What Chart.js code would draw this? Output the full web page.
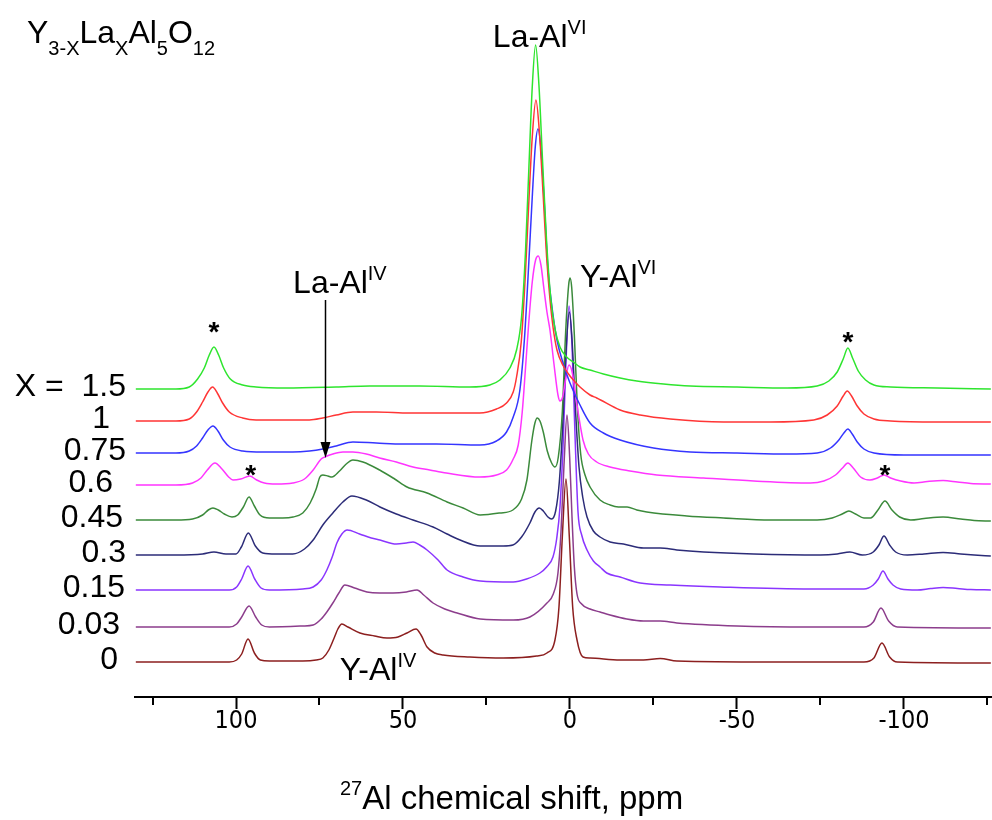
<!DOCTYPE html>
<html>
<head>
<meta charset="utf-8">
<script src="https://cdn.jsdelivr.net/npm/chart.js@4.4.0/dist/chart.umd.min.js"></script>
<style>
  html, body { margin: 0; padding: 0; background: #fff; }
</style>
</head>
<body>
<canvas id="nmr" width="992" height="820"></canvas>
<script>
// 27Al MAS NMR spectra of Y(3-x)La(x)Al5O12, stacked
// each point: [ppm, intensity (arb. units, offset included)]
const spec15 = [[130,308],[118,308],[114,310],[111.5,318],[109.5,329],[108,342],[106.6,350],[105.2,342],[103.7,329],[101.7,318],[98,312],[94,310],[85,309],[70,310],[60,311],[45,311],[30,310],[24,312],[21,317],[18,329],[16,347],[14.5,380],[13.3,447],[12.3,530],[11.3,610],[10.3,652],[9.3,612],[8.2,535],[7,455],[5.8,400],[4.5,368],[3,350],[1,340],[-1,335],[-3,330],[-6,327],[-10,323],[-15,319],[-20,316],[-28,313],[-36,311],[-50,310],[-65,309],[-74,311],[-77.5,316],[-80,325],[-81.8,338],[-83.2,349],[-84.6,339],[-86.3,326],[-88.5,317],[-91,312],[-96,310],[-110,309],[-126,308]];
const spec1 = [[130,276],[118,276],[114,278],[111.8,285],[110,295],[108.4,305],[107,310],[105.6,304],[104,294],[102,285],[98,279],[94,277],[85,277],[78,277],[74,279],[70,282],[65,285],[58,285],[48,284],[38,284],[27,284],[22,288],[19,294],[17,305],[16,320],[14.6,355],[13.4,420],[12.4,490],[11.3,560],[10.2,597],[9.1,562],[8,500],[7,440],[6,398],[5,368],[3.9,347],[2,331],[0,321],[-1,317],[-3,310],[-6,302],[-8,299],[-15,287],[-21,282],[-30,278],[-46,275],[-60,275],[-73,277],[-77,282],[-80,291],[-81.8,301],[-83,306],[-84.3,301],[-86,291],[-88,283],[-91,278],[-96,276],[-110,275],[-126,275]];
const spec075 = [[130,244],[118,244],[114,246],[111.8,251],[110,259],[108.4,267],[106.9,271],[105.4,266],[103.8,257],[101.8,250],[98,246],[92,245],[83,245],[78,246],[74,248],[70,251],[65,255],[58,254],[50,253],[40,253],[27,252],[22,256],[19,265],[17,280],[15,307],[13.6,360],[12.4,430],[11.3,500],[10.4,550],[9.6,568],[8.8,552],[7.8,500],[6.6,428],[5.2,385],[3.9,357],[2,333],[0,314],[-3,292],[-6,274],[-10,264],[-15,257],[-25,249],[-36,245],[-50,244],[-65,243],[-74,244],[-78,249],[-80.5,257],[-82,264],[-83.2,268],[-84.5,263],[-86,255],[-88,248],[-91,244],[-100,242],[-126,242]];
const spec06 = [[130,212],[118,212],[113,214],[110.5,219],[108.6,227],[106.3,234],[104.2,228],[102.2,220],[100.9,217],[98.6,218],[95.9,221],[93.8,217],[91.5,214],[88,213],[83,214],[79.5,218],[76.9,227],[74.5,238],[73.4,240],[71,243],[68,245],[65,245],[61,243],[57,239],[52,235],[47,230],[42,227],[37,224],[27,220],[22,222],[19,227],[17,238],[15.5,252],[14.3,285],[13.3,330],[12.4,372],[11.3,415],[10.3,437],[9.5,441],[8.7,432],[7.8,408],[6.9,385],[6,367],[4.8,333],[3.6,302],[3,296],[2.2,300],[1.3,318],[0.3,332],[-0.7,324],[-2,294],[-3.9,257],[-5.5,243],[-8,235],[-12,230],[-18,226],[-26,222],[-40,219],[-55,216],[-72,214],[-76,216],[-79.5,222],[-81.6,229],[-83.2,234],[-84.8,229],[-87,220],[-89.8,217],[-92,219],[-94,222],[-96,219],[-99,216],[-103,214],[-107,215.5],[-111.7,216.5],[-116,215],[-120,213.5],[-126,213]];
const spec045 = [[130,177],[118,177],[113,178],[110,182],[108.3,187],[106.9,189],[105.3,187],[103.5,183],[101.2,180],[99.5,182],[97.8,190],[96.1,200],[94.5,191],[92.8,182],[90,179],[86,179],[82.9,180],[80,184],[77.8,194],[76,208],[74.9,220],[74,222],[72.5,221],[71.3,220],[69,226],[67,233],[65,237],[62,235],[57,227],[52.5,218],[48.8,210],[42.8,204],[36.8,195],[32,189],[26.9,182],[21,184],[17.1,187],[14.5,198],[12.9,217],[11.4,257],[10.5,274],[9.8,279],[9,276],[8,265],[6.8,246],[5.5,234],[4.5,230],[3.5,240],[2.3,285],[1.3,365],[0.4,412],[0,419],[-0.5,410],[-1.3,362],[-2.2,290],[-3.2,243],[-4.5,222],[-6,210],[-9,197],[-12,192],[-14.5,190],[-17.1,190],[-20,187],[-23,185],[-35,181],[-46,179],[-60,177],[-74,177],[-78.5,179],[-81.5,183],[-83.5,186],[-85.5,183],[-88,179],[-90,179],[-92.2,187],[-94.3,196],[-96.4,187],[-98.7,180],[-102,177],[-106,178.5],[-111.7,180],[-117,178],[-121,176.5],[-126,176]];
const spec03 = [[130,142],[118,142],[110,143],[106.6,145],[103,143],[100,143],[98.4,150],[96.3,164],[94.2,151],[92,144],[88,143],[83,143],[79.5,148],[76.9,157],[74,172],[71,184],[68,195],[65.3,201],[61,197],[56.9,190],[52,183],[47,177],[41,170],[36.8,163],[32.9,157],[26.9,151],[20,151],[17.1,152],[14.5,160],[12,174],[10.5,185],[9.2,189],[8,186],[6.6,180],[5.5,178],[4.3,186],[3.2,215],[2.2,270],[1.2,345],[0.2,385],[-0.6,358],[-1.6,290],[-2.7,230],[-3.8,200],[-5.1,180],[-7,166],[-9,160],[-12,155],[-16,153],[-22,149],[-27,149],[-32,147],[-40,145],[-55,143],[-75,142],[-80,143],[-83.8,145],[-87.5,142],[-90.8,145],[-92.5,152],[-94,161],[-95.7,152],[-97.5,145],[-101,142],[-106,143],[-111.7,144.5],[-117,143],[-121,142],[-126,141]];
const spec015 = [[130,107],[102,107],[99.8,110],[98.3,118],[96.4,131],[94.4,118],[92.5,109],[90,107],[80,108],[76.9,110],[74.5,117],[72.8,127],[71.2,140],[69.8,154],[68.3,163],[66.7,167],[63,163],[59.5,159],[56.9,157],[52,153],[49,154],[47,155],[45,152],[42.8,147],[39.5,137],[36.8,127],[32,120],[26.9,116],[17,115],[13,118],[9,124],[7,130],[5.1,140],[4,158],[3,190],[2,258],[1.2,335],[0.3,391],[-0.6,352],[-1.5,262],[-2.4,185],[-3.5,162],[-5.1,147],[-7,136],[-9,130],[-11,124],[-15,120],[-21,114],[-30,112],[-45,110],[-72,108],[-88,108],[-90.8,112],[-92.3,118],[-93.7,126],[-95.2,118],[-96.7,112],[-99,108],[-104,107],[-108,108.5],[-111.7,109.5],[-116,108.5],[-120,107.5],[-126,107]];
const spec003 = [[130,70],[102,70],[99.8,73],[98.3,80],[96.1,91],[94.1,80],[92.3,72],[90,70],[80,71],[76.9,72],[74.5,78],[72.8,85],[71,94],[69.2,104],[67.4,112],[64.5,109],[60.8,105],[57,104],[53,104],[49,105],[45.8,107],[43.8,102],[41,94],[37.5,88],[33.8,84],[26.9,78],[17,77],[12,80],[6.9,94],[5,103],[3.6,124],[2.7,165],[1.8,232],[0.9,282],[0.1,240],[-0.6,180],[-1.3,130],[-2.1,103],[-3.5,93],[-6,88],[-9,85],[-12,82],[-17,78],[-22,76],[-27,76],[-32,74],[-50,71],[-72,70],[-88,70],[-90.8,75],[-93.1,89],[-95.4,76],[-98,70],[-126,69]];
const spec0 = [[130,35],[102,35],[99.8,37],[98.3,43],[96.4,58],[94.5,44],[92.7,37],[90,36],[80,36],[76,37],[74,39],[72.2,47],[70.5,60],[69.5,68],[68.3,73],[66.5,70],[62.9,64],[58.5,61],[54.8,59],[51.5,60],[48.8,64],[46.1,68],[44.6,62],[42.8,50],[40.5,44],[38,42],[30,40],[20,39],[10,41],[6.9,44],[4.5,57],[3.3,90],[2.3,160],[1.2,218],[0.2,160],[-0.8,90],[-2.1,57],[-3.9,40],[-6,39],[-15,37],[-22,37],[-27,38.5],[-32,36],[-60,35],[-88,35],[-91,39],[-93.4,54],[-95.7,40],[-98,35],[-126,34]];

const spectra = [spec15, spec1, spec075, spec06, spec045, spec03, spec015, spec003, spec0];
const xValues = ['X =  1.5', '1', '0.75', '0.6', '0.45', '0.3', '0.15', '0.03', '0'];
const lineColors = ['#2ee52e', '#ff3535', '#3535ff', '#ff35ff', '#3b8a3b', '#2c2c78', '#8a35ff', '#8c3d8c', '#8c1f1f'];
const labelRight = [126, 110, 126, 113, 123, 126, 125, 120, 118];

const tickValues = [125, 100, 75, 50, 25, 0, -25, -50, -75, -100, -125];

// spinning sidebands (*) and peak assignments, in [ppm, intensity]
const starMarks = [[106.6, 372], [95.6, 229], [-83.2, 362], [-94.3, 229]];
const peakNotes = [
  { at: [23.1, 650], parts: [{ t: 'La-Al' }, { t: 'VI', k: 'sup' }] },
  { at: [-3.0, 410], parts: [{ t: 'Y-Al' }, { t: 'VI', k: 'sup' }] },
  { at: [82.9, 404], parts: [{ t: 'La-Al' }, { t: 'IV', k: 'sup' }] },
  { at: [68.9, 17], parts: [{ t: 'Y-Al' }, { t: 'IV', k: 'sup' }] }
];
const arrowLaIV = { ppm: 73.4, from: 397, to: 239 };

const FONT = "'Liberation Sans', Arial, Helvetica, sans-serif";
const FONT_NARROW = "'Liberation Sans Narrow', 'Arial Narrow', 'DejaVu Sans Condensed', sans-serif";

function richText(ctx, parts, x, y, size, small, supDy, subDy) {
  parts.forEach(function (p) {
    ctx.font = (p.k ? small : size) + 'px ' + FONT;
    var dy = p.k === 'sup' ? supDy : (p.k === 'sub' ? subDy : 0);
    ctx.fillText(p.t, x, y + dy);
    x += ctx.measureText(p.t).width;
  });
}

const decorations = {
  id: 'decorations',
  afterDraw: function (chart) {
    const ctx = chart.ctx;
    const xs = chart.scales.x, ys = chart.scales.y;
    const area = chart.chartArea;
    ctx.save();
    ctx.fillStyle = '#000';
    ctx.strokeStyle = '#000';

    // minor ticks
    ctx.lineWidth = 2;
    tickValues.forEach(function (v) {
      if (v % 50 === 0) return;
      const px = Math.round(xs.getPixelForValue(v));
      ctx.beginPath();
      ctx.moveTo(px, area.bottom);
      ctx.lineTo(px, area.bottom + 8);
      ctx.stroke();
    });

    // X = ... labels next to each trace
    ctx.textAlign = 'right';
    ctx.textBaseline = 'alphabetic';
    ctx.font = '32px ' + FONT;
    spectra.forEach(function (s, i) {
      const py = ys.getPixelForValue(s[0][1]);
      ctx.fillText(xValues[i], labelRight[i], py + 7);
    });

    // stars
    ctx.textAlign = 'center';
    ctx.font = 'bold 28px ' + FONT;
    starMarks.forEach(function (m) {
      ctx.fillText('*', xs.getPixelForValue(m[0]), ys.getPixelForValue(m[1]) + 16);
    });

    // peak assignments
    ctx.textAlign = 'left';
    peakNotes.forEach(function (n) {
      richText(ctx, n.parts, xs.getPixelForValue(n.at[0]), ys.getPixelForValue(n.at[1]), 32, 20, -13, 12);
    });

    // arrow to La-Al(IV) shoulder
    const ax = Math.round(xs.getPixelForValue(arrowLaIV.ppm)) + 0.5;
    const ay0 = ys.getPixelForValue(arrowLaIV.from);
    const ay1 = ys.getPixelForValue(arrowLaIV.to);
    ctx.lineWidth = 1.5;
    ctx.beginPath();
    ctx.moveTo(ax, ay0);
    ctx.lineTo(ax, ay1 - 12);
    ctx.stroke();
    ctx.beginPath();
    ctx.moveTo(ax - 5, ay1 - 16);
    ctx.lineTo(ax + 5, ay1 - 16);
    ctx.lineTo(ax, ay1);
    ctx.closePath();
    ctx.fill();

    // composition formula
    richText(ctx, [{ t: 'Y' }, { t: '3-X', k: 'sub' }, { t: 'La' }, { t: 'X', k: 'sub' },
      { t: 'Al' }, { t: '5', k: 'sub' }, { t: 'O' }, { t: '12', k: 'sub' }], 27, 43, 32, 20, -13, 12);

    // axis title
    richText(ctx, [{ t: '27', k: 'sup' }, { t: 'Al chemical shift, ppm' }], 340, 809, 33, 20, -14, 0);

    ctx.restore();
  }
};

const datasets = spectra.map(function (s, i) {
  return {
    label: xValues[i],
    data: s.map(function (p) { return { x: p[0], y: p[1] }; }),
    borderColor: lineColors[i],
    borderWidth: 1.5,
    pointRadius: 0,
    fill: false,
    cubicInterpolationMode: 'monotone'
  };
});

new Chart(document.getElementById('nmr').getContext('2d'), {
  type: 'line',
  data: { datasets: datasets },
  options: {
    responsive: false,
    animation: false,
    devicePixelRatio: 1,
    layout: { padding: { left: 135, top: 17, right: 0, bottom: 0 } },
    plugins: { legend: { display: false }, tooltip: { enabled: false } },
    scales: {
      x: {
        type: 'linear',
        reverse: true,
        min: -126.35,
        max: 130.24,
        afterBuildTicks: function (axis) {
          axis.ticks = tickValues.map(function (v) { return { value: v }; });
        },
        afterFit: function (axis) { axis.height = 123; },
        ticks: {
          includeBounds: false,
          autoSkip: false,
          maxRotation: 0,
          padding: -3,
          color: '#000',
          font: { family: FONT_NARROW, size: 25 },
          callback: function (v) { return v % 50 === 0 ? String(v) : ''; }
        },
        grid: {
          drawOnChartArea: false,
          drawTicks: true,
          tickLength: 12,
          tickWidth: 2,
          tickColor: function (c) {
            return (c.tick && c.tick.value % 50 === 0) ? '#000' : 'rgba(0,0,0,0)';
          }
        },
        border: { display: true, color: '#000', width: 2 }
      },
      y: { display: false, min: 0, max: 680 }
    }
  },
  plugins: [decorations]
});
</script>
</body>
</html>
